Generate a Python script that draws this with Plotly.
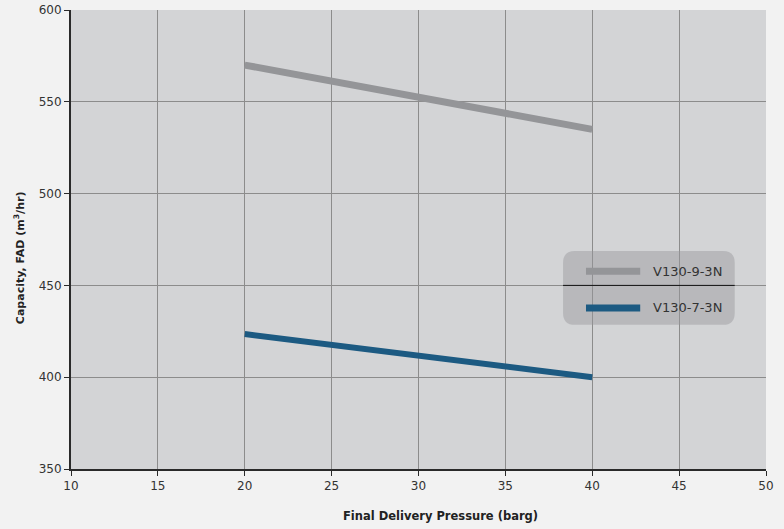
import plotly.graph_objects as go

pressure = [20, 40]
v130_9_3n = [570, 535]
v130_7_3n = [423.5, 400]
series_names = ["V130-9-3N", "V130-7-3N"]
series_colors = ["#949598", "#1c5a82"]
x_ticks = [10, 15, 20, 25, 30, 35, 40, 45, 50]
y_ticks = [350, 400, 450, 500, 550, 600]
x_title = "<b>Final Delivery Pressure (barg)</b>"
y_title = "<b>Capacity, FAD (m<sup>3</sup>/hr)</b>"

fig = go.Figure()
for name, ys, col, w in [(series_names[0], v130_9_3n, series_colors[0], 7),
                         (series_names[1], v130_7_3n, series_colors[1], 6)]:
    fig.add_trace(go.Scatter(x=pressure, y=ys, mode="lines", name=name,
                             line=dict(color=col, width=w), showlegend=False, hoverinfo="skip"))

font = "DejaVu Sans"
fig.update_layout(
    width=784, height=529,
    margin=dict(l=71, r=18, t=10, b=60),
    paper_bgcolor="#f2f2f2",
    plot_bgcolor="#d3d4d6",
    font=dict(family=font, size=12, color="#333333"),
    xaxis=dict(range=[10, 50], tickvals=x_ticks, showgrid=True, gridcolor="#8c8c8c", gridwidth=1,
               showline=True, linecolor="#2a2a2a", linewidth=2, ticks="outside", ticklen=5,
               tickcolor="#2a2a2a", zeroline=False, automargin=False),
    yaxis=dict(range=[350, 600], tickvals=y_ticks, showgrid=True, gridcolor="#8c8c8c", gridwidth=1,
               showline=True, linecolor="#2a2a2a", linewidth=2, ticks="outside", ticklen=5,
               tickcolor="#2a2a2a", zeroline=False, automargin=False),
)

fig.add_annotation(xref="paper", yref="paper", x=0.532, y=-0.102, text=x_title, showarrow=False,
                   xanchor="center", yanchor="middle", font=dict(size=11.5, color="#222"))
fig.add_annotation(xref="paper", yref="paper", x=-0.073, y=0.46, text=y_title, showarrow=False,
                   textangle=-90, xanchor="center", yanchor="middle", font=dict(size=11, color="#222"))

# rounded legend box
x0, x1, y0, y1 = 0.708, 0.955, 0.314, 0.475
rx, ry = 0.017, 0.026
path = (f"M {x0+rx},{y0} L {x1-rx},{y0} Q {x1},{y0} {x1},{y0+ry} L {x1},{y1-ry} Q {x1},{y1} {x1-rx},{y1} "
        f"L {x0+rx},{y1} Q {x0},{y1} {x0},{y1-ry} L {x0},{y0+ry} Q {x0},{y0} {x0+rx},{y0} Z")
fig.add_shape(type="path", path=path, xref="paper", yref="paper",
              fillcolor="rgba(150,151,155,0.45)", line=dict(width=0), layer="above")
fig.add_shape(type="line", xref="paper", yref="y", x0=x0, x1=x1, y0=450, y1=450,
              line=dict(color="#111111", width=1), layer="above")
for i, (name, col, yl) in enumerate(zip(series_names, series_colors, [0.431, 0.351])):
    fig.add_shape(type="line", xref="paper", yref="paper", x0=0.741, x1=0.819, y0=yl, y1=yl,
                  line=dict(color=col, width=7), layer="above")
    fig.add_annotation(xref="paper", yref="paper", x=0.835, y=yl, text=name, showarrow=False,
                       xanchor="left", yanchor="middle", font=dict(family=font, size=13, color="#333"))

fig.write_html("out.html", config={"displayModeBar": False},
               post_script="document.body.style.margin='0';document.body.style.background='#f2f2f2';")
